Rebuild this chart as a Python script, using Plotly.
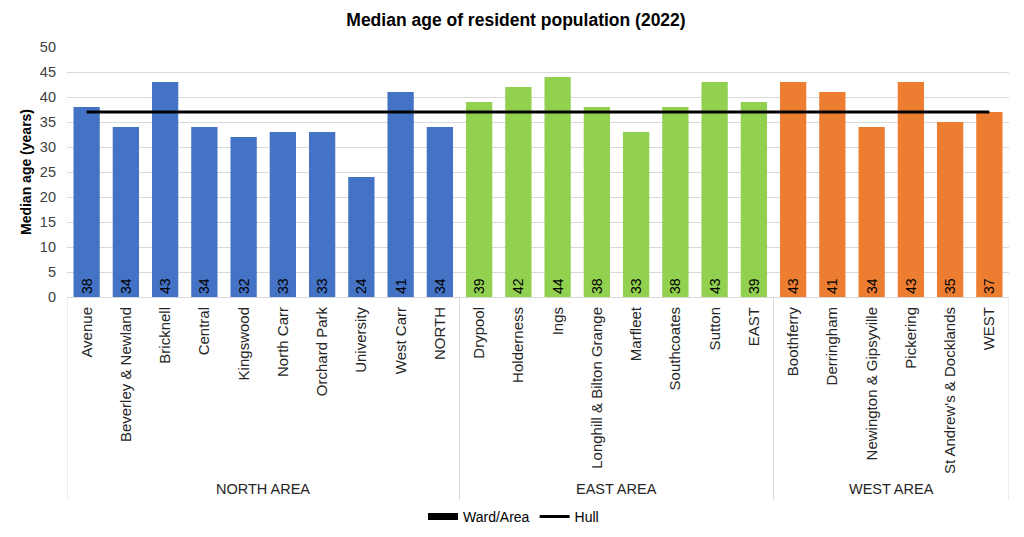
import plotly.graph_objects as go

wards = [
    "Avenue", "Beverley & Newland", "Bricknell", "Central", "Kingswood",
    "North Carr", "Orchard Park", "University", "West Carr", "NORTH",
    "Drypool", "Holderness", "Ings", "Longhill & Bilton Grange", "Marfleet",
    "Southcoates", "Sutton", "EAST",
    "Boothferry", "Derringham", "Newington & Gipsyville", "Pickering",
    "St Andrew's & Docklands", "WEST",
]
median_age = [
    38, 34, 43, 34, 32, 33, 33, 24, 41, 34,
    39, 42, 44, 38, 33, 38, 43, 39,
    43, 41, 34, 43, 35, 37,
]
areas = ["NORTH AREA", "EAST AREA", "WEST AREA"]
area_sizes = [10, 8, 6]
area_colors = ["#4472C4", "#92D050", "#ED7D31"]
hull_median = 37

FONT = "Liberation Sans, Arial, sans-serif"

fig = go.Figure()

# one bar trace per area so each gets its own colour
start = 0
for area, n, col in zip(areas, area_sizes, area_colors):
    xs = list(range(start, start + n))
    ys = median_age[start:start + n]
    fig.add_trace(go.Bar(
        x=xs, y=ys, width=0.67,
        marker=dict(color=col, line=dict(width=0)),
        text=[str(v) for v in ys],
        textposition="inside", insidetextanchor="start",
        textangle=-90, constraintext="none",
        textfont=dict(family=FONT, size=14, color="black"),
        showlegend=False, hoverinfo="x+y",
    ))
    start += n

# legend key for the bars: a thick line gives the wide black block
fig.add_trace(go.Scatter(
    x=[None], y=[None], mode="lines", name="Ward/Area",
    line=dict(color="black", width=7),
))

fig.add_trace(go.Scatter(
    x=list(range(len(wards))), y=[hull_median] * len(wards),
    mode="lines", name="Hull",
    line=dict(color="black", width=3),
))

# group separators and area labels under the axis
sep_bottom = -0.812
bounds = [-0.5]
for n in area_sizes:
    bounds.append(bounds[-1] + n)
for b in bounds:
    fig.add_shape(type="line", xref="x", yref="paper", x0=b, x1=b,
                  y0=0, y1=sep_bottom, line=dict(color="#D9D9D9", width=1))
for i, area in enumerate(areas):
    fig.add_annotation(
        x=(bounds[i] + bounds[i + 1]) / 2, y=-0.768, xref="x", yref="paper",
        text=area, showarrow=False, yanchor="middle",
        font=dict(family=FONT, size=14.5, color="#262626"),
    )

# page body has an 8px margin, so the figure is a bit smaller than the window
fig.update_layout(
    width=1016, height=529,
    margin=dict(l=59, r=15, t=39, b=240, autoexpand=False),
    paper_bgcolor="white", plot_bgcolor="white",
    barmode="overlay",
    title=dict(text="<b>Median age of resident population (2022)</b>",
               x=0.5, xanchor="center", y=0.977, yanchor="middle",
               font=dict(family=FONT, size=17.5, color="black")),
    font=dict(family=FONT, color="#262626"),
    legend=dict(orientation="h", x=0.474, xanchor="center",
                yref="container", y=0.038, yanchor="middle",
                font=dict(family=FONT, size=14, color="black"),
                itemwidth=30, tracegroupgap=0),
)

fig.update_xaxes(
    range=[-0.5, len(wards) - 0.5],
    tickmode="array", tickvals=list(range(len(wards))), ticktext=wards,
    tickangle=-90, tickfont=dict(family=FONT, size=15, color="#262626"),
    ticklabelstandoff=3,
    showgrid=False, showline=True, linecolor="#D9D9D9", linewidth=1,
    ticks="", zeroline=False, automargin=False,
)
fig.update_yaxes(
    range=[0, 50], dtick=5,
    title=dict(text="<b>Median age (years)</b>", standoff=4,
               font=dict(family=FONT, size=14, color="black")),
    tickfont=dict(family=FONT, size=14.5, color="#404040"),
    ticklabelstandoff=10,
    showgrid=True, gridcolor="#D9D9D9", gridwidth=1,
    zeroline=False, showline=False, ticks="", automargin=False,
)

fig.write_html("out.html")
